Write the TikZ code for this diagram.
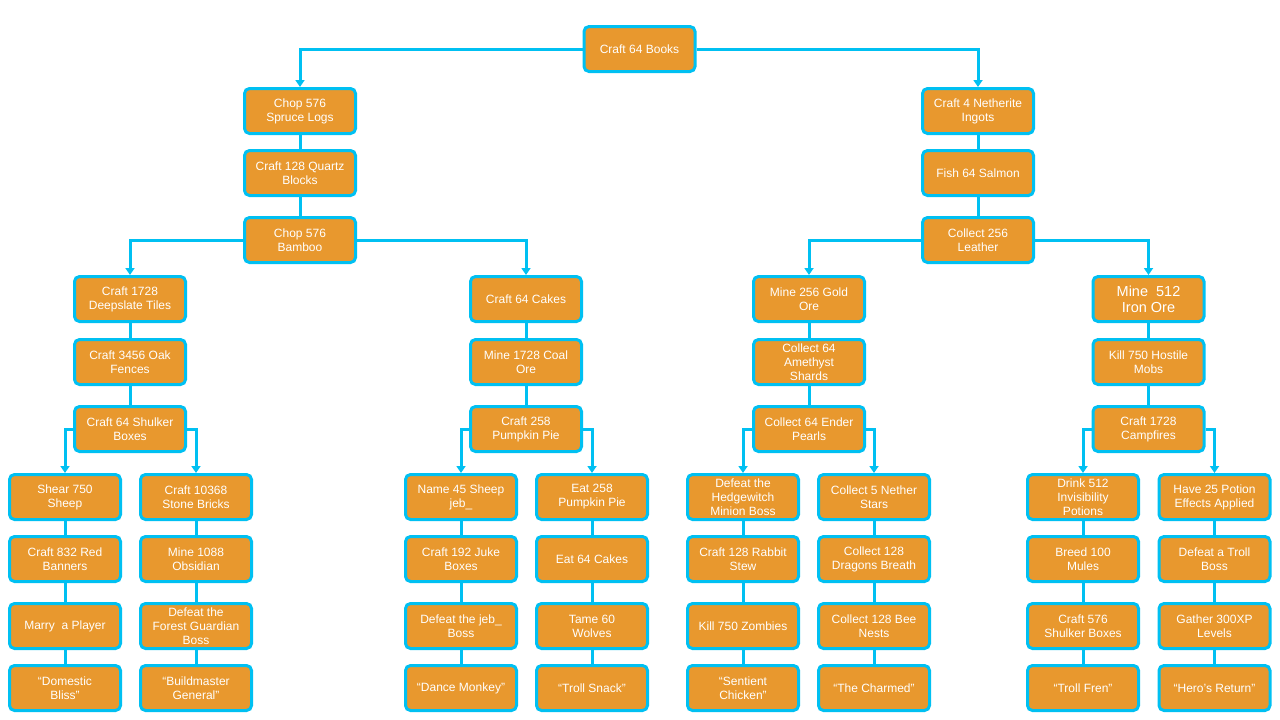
\documentclass[tikz,border=0pt]{standalone}
\usepackage{fontspec}
\setmainfont{Liberation Sans}
\usetikzlibrary{calc,arrows.meta}
\definecolor{questfill}{HTML}{E8982E}
\definecolor{questline}{HTML}{00C0F2}
\tikzset{
	task/.style={draw=questline,line width=3pt,fill=questfill,rounded corners=5pt,minimum width=111pt,minimum height=45pt,text=white,align=center,inner sep=1pt,font=\fontsize{12}{14}\selectfont},
	link/.style={draw=questline,line width=3pt},
	branch/.style={link,-{Triangle[width=9pt,length=7pt]}},
}
\newcommand{\chainlink}[2]{
	\draw[link] (#1.south) -- (#2.north);
}

\begin{document}
\begin{tikzpicture}[x=1pt,y=-1pt]
		\useasboundingbox (0,0) rectangle (1280,720);
		\node (books) at (639.5,49) [task] {Craft 64 Books};
		% left half
		\node (spruce) at (300,111) [task] {Chop 576\\Spruce Logs};
		\node (quartz) at ($(spruce) + (0,62)$) [task] {Craft 128 Quartz\\Blocks};
		\node (bamboo) at ($(quartz) + (0,67)$) [task] {Chop 576\\Bamboo};
		\node (deepslate) at (130,299) [task] {Craft 1728\\Deepslate Tiles};
		\node (fences) at ($(deepslate) + (0,63)$) [task] {Craft 3456 Oak\\Fences};
		\node (shulker) at ($(fences) + (0,67)$) [task] {Craft 64 Shulker\\Boxes};
		\node (cakes) at (526,299) [task] {Craft 64 Cakes};
		\node (coal) at ($(cakes) + (0,63)$) [task] {Mine 1728 Coal\\Ore};
		\node (pie) at ($(coal) + (0,67)$) [task] {Craft 258\\Pumpkin Pie};
		% right half
		\node (netherite) at (978,111) [task] {Craft 4 Netherite\\Ingots};
		\node (salmon) at ($(netherite) + (0,62)$) [task] {Fish 64 Salmon};
		\node (leather) at ($(salmon) + (0,67)$) [task] {Collect 256\\Leather};
		\node (gold) at (809,299) [task] {Mine 256 Gold\\Ore};
		\node (amethyst) at ($(gold) + (0,63)$) [task] {Collect 64\\Amethyst\\Shards};
		\node (ender) at ($(amethyst) + (0,67)$) [task] {Collect 64 Ender\\Pearls};
		\node (iron) at (1148.5,299) [task,font=\fontsize{14.5}{16}\selectfont] {Mine\ \ 512\\Iron Ore};
		\node (mobs) at ($(iron) + (0,63)$) [task] {Kill 750 Hostile\\Mobs};
		\node (campfires) at ($(mobs) + (0,67)$) [task] {Craft 1728\\Campfires};
		% bottom rows
		\node (sheep) at (65,497) [task] {Shear 750\\Sheep};
		\node (banners) at ($(sheep) + (0,62)$) [task] {Craft 832 Red\\Banners};
		\node (marry) at ($(banners) + (0,67)$) [task] {Marry\ \ a Player};
		\node (bliss) at ($(marry) + (0,62)$) [task] {“Domestic\\Bliss”};
		\node (bricks) at (196,497) [task] {Craft 10368\\Stone Bricks};
		\node (obsidian) at ($(bricks) + (0,62)$) [task] {Mine 1088\\Obsidian};
		\node (guardian) at ($(obsidian) + (0,67)$) [task] {Defeat the\\Forest Guardian\\Boss};
		\node (buildmaster) at ($(guardian) + (0,62)$) [task] {“Buildmaster\\General”};
		\node (jeb) at (461,497) [task] {Name 45 Sheep\\jeb\_};
		\node (juke) at ($(jeb) + (0,62)$) [task] {Craft 192 Juke\\Boxes};
		\node (jebboss) at ($(juke) + (0,67)$) [task] {Defeat the jeb\_\\Boss};
		\node (monkey) at ($(jebboss) + (0,62)$) [task] {“Dance Monkey”};
		\node (eatpie) at (592,497) [task] {Eat 258\\Pumpkin Pie};
		\node (eatcakes) at ($(eatpie) + (0,62)$) [task] {Eat 64 Cakes};
		\node (wolves) at ($(eatcakes) + (0,67)$) [task] {Tame 60\\Wolves};
		\node (snack) at ($(wolves) + (0,62)$) [task] {“Troll Snack”};
		\node (hedgewitch) at (743,497) [task] {Defeat the\\Hedgewitch\\Minion Boss};
		\node (stew) at ($(hedgewitch) + (0,62)$) [task] {Craft 128 Rabbit\\Stew};
		\node (zombies) at ($(stew) + (0,67)$) [task] {Kill 750 Zombies};
		\node (chicken) at ($(zombies) + (0,62)$) [task] {“Sentient\\Chicken”};
		\node (stars) at (874,497) [task] {Collect 5 Nether\\Stars};
		\node (breath) at ($(stars) + (0,62)$) [task] {Collect 128\\Dragons Breath};
		\node (nests) at ($(breath) + (0,67)$) [task] {Collect 128 Bee\\Nests};
		\node (charmed) at ($(nests) + (0,62)$) [task] {“The Charmed”};
		\node (potions) at (1083,497) [task] {Drink 512\\Invisibility\\Potions};
		\node (mules) at ($(potions) + (0,62)$) [task] {Breed 100\\Mules};
		\node (boxes) at ($(mules) + (0,67)$) [task] {Craft 576\\Shulker Boxes};
		\node (fren) at ($(boxes) + (0,62)$) [task] {“Troll Fren”};
		\node (effects) at (1214.5,497) [task] {Have 25 Potion\\Effects Applied};
		\node (troll) at ($(effects) + (0,62)$) [task] {Defeat a Troll\\Boss};
		\node (levels) at ($(troll) + (0,67)$) [task] {Gather 300XP\\Levels};
		\node (hero) at ($(levels) + (0,62)$) [task] {“Hero’s Return”};
		% branches
		\draw[branch] (books.west) -| (spruce.north);
		\draw[branch] (books.east) -| (netherite.north);
		\draw[branch] (bamboo.west) -| (deepslate.north);
		\draw[branch] (bamboo.east) -| (cakes.north);
		\draw[branch] (leather.west) -| (gold.north);
		\draw[branch] (leather.east) -| (iron.north);
		\draw[branch] (shulker.west) -| (sheep.north);
		\draw[branch] (shulker.east) -| (bricks.north);
		\draw[branch] (pie.west) -| (jeb.north);
		\draw[branch] (pie.east) -| (eatpie.north);
		\draw[branch] (ender.west) -| (hedgewitch.north);
		\draw[branch] (ender.east) -| (stars.north);
		\draw[branch] (campfires.west) -| (potions.north);
		\draw[branch] (campfires.east) -| (effects.north);
		% chains
		\chainlink{spruce}{quartz}
		\chainlink{quartz}{bamboo}
		\chainlink{netherite}{salmon}
		\chainlink{salmon}{leather}
		\chainlink{deepslate}{fences}
		\chainlink{fences}{shulker}
		\chainlink{cakes}{coal}
		\chainlink{coal}{pie}
		\chainlink{gold}{amethyst}
		\chainlink{amethyst}{ender}
		\chainlink{iron}{mobs}
		\chainlink{mobs}{campfires}
		\chainlink{sheep}{banners}
		\chainlink{banners}{marry}
		\chainlink{marry}{bliss}
		\chainlink{bricks}{obsidian}
		\chainlink{obsidian}{guardian}
		\chainlink{guardian}{buildmaster}
		\chainlink{jeb}{juke}
		\chainlink{juke}{jebboss}
		\chainlink{jebboss}{monkey}
		\chainlink{eatpie}{eatcakes}
		\chainlink{eatcakes}{wolves}
		\chainlink{wolves}{snack}
		\chainlink{hedgewitch}{stew}
		\chainlink{stew}{zombies}
		\chainlink{zombies}{chicken}
		\chainlink{stars}{breath}
		\chainlink{breath}{nests}
		\chainlink{nests}{charmed}
		\chainlink{potions}{mules}
		\chainlink{mules}{boxes}
		\chainlink{boxes}{fren}
		\chainlink{effects}{troll}
		\chainlink{troll}{levels}
		\chainlink{levels}{hero}
	\end{tikzpicture}
\end{document}
